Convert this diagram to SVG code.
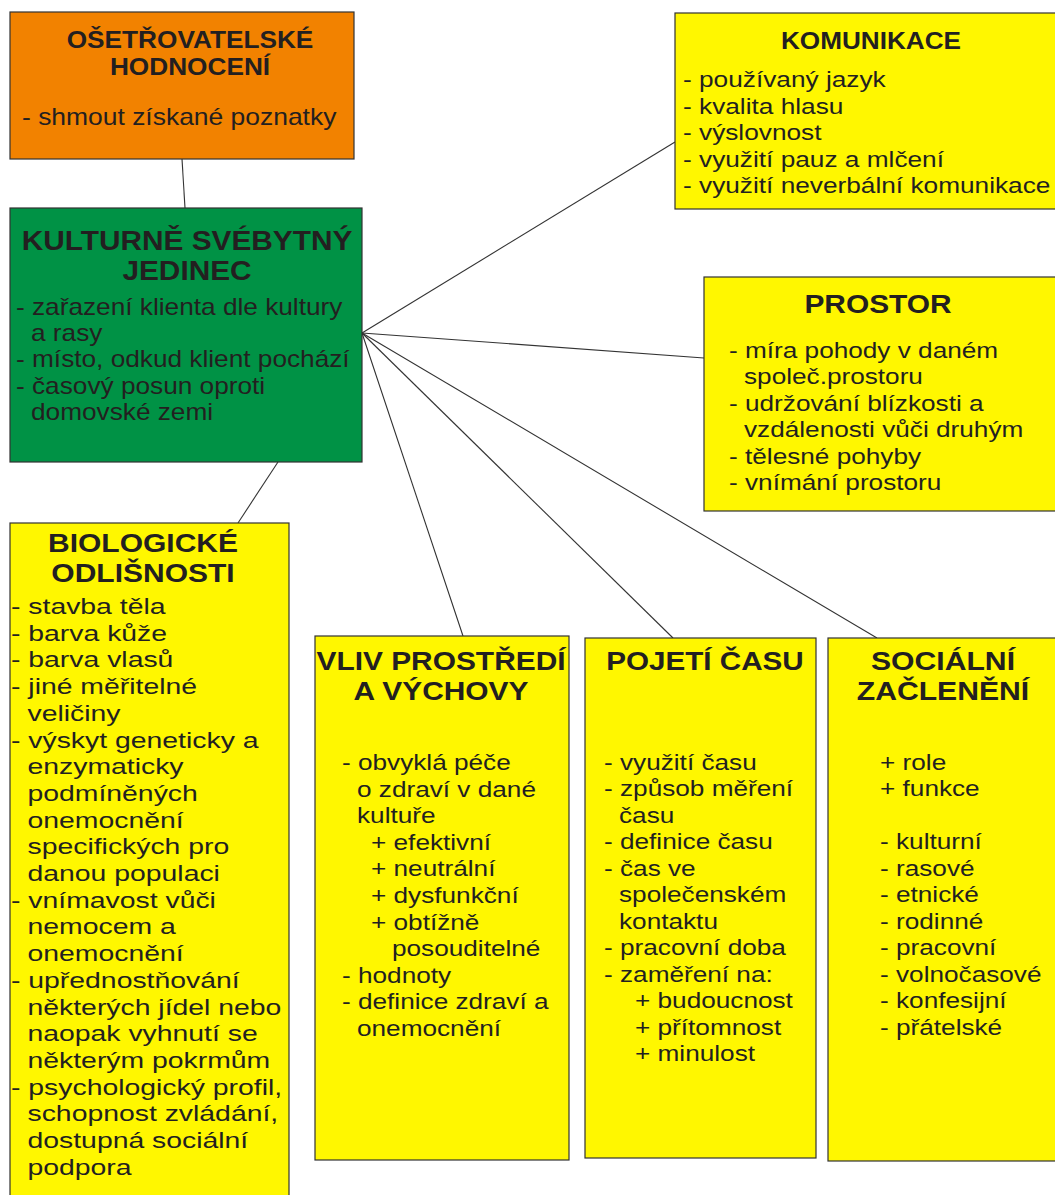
<svg xmlns="http://www.w3.org/2000/svg" width="1055" height="1195" viewBox="0 0 1055 1195">
<style>
text{font-family:"Liberation Sans",Arial,sans-serif;fill:#231f20}
.b{font-weight:bold}
.m{text-anchor:middle}
.f22{font-size:22px}
.f23{font-size:23px}
.box{stroke:#333;stroke-width:1.2}
.y{fill:#fff700}
.con line{stroke:#333;stroke-width:1.1}
</style>
<rect width="1055" height="1195" fill="#fff"/>
<g id="connectors" class="con">
<line x1="182" y1="159" x2="185" y2="208"/>
<line x1="278" y1="462" x2="238" y2="523"/>
<line x1="362" y1="333" x2="675" y2="142"/>
<line x1="362" y1="333" x2="704" y2="358"/>
<line x1="362" y1="333" x2="463" y2="636"/>
<line x1="362" y1="333" x2="673" y2="638"/>
<line x1="362" y1="333" x2="877" y2="638"/>
</g>
<g id="osetrovatelske">
<rect class="box" x="10" y="12" width="344" height="147" fill="#f28200"/>
<g transform="translate(190,0) scale(1.14,1)" class="b m" font-size="23"><text y="48">OŠETŘOVATELSKÉ</text><text y="75">HODNOCENÍ</text></g>
<g transform="translate(22,0) scale(1.15,1)" class="f23"><text y="125">- shmout získané poznatky</text></g>
</g>
<g id="jedinec">
<rect class="box" x="10" y="208" width="352" height="254" fill="#009245"/>
<g transform="translate(187,0) scale(1.065,1)" class="b m" font-size="28"><text y="250">KULTURNĚ SVÉBYTNÝ</text><text y="280">JEDINEC</text></g>
<g transform="translate(16,0) scale(1.14,1)" class="f23"><text y="314.5">- zařazení klienta dle kultury</text><text y="367.5">- místo, odkud klient pochází</text><text y="394">- časový posun oproti</text></g>
<g transform="translate(31,0) scale(1.14,1)" class="f23"><text y="341">a rasy</text><text y="420.5">domovské zemi</text></g>
</g>
<g id="komunikace">
<rect class="box y" x="675" y="13" width="390" height="196"/>
<g transform="translate(871,0) scale(1.09,1)" class="b m" font-size="24"><text y="49">KOMUNIKACE</text></g>
<g transform="translate(683,0) scale(1.193,1)" class="f22"><text y="87.3">- používaný jazyk</text><text y="113.8">- kvalita hlasu</text><text y="140.3">- výslovnost</text><text y="166.8">- využití pauz a mlčení</text><text y="193.3">- využití neverbální komunikace</text></g>
</g>
<g id="prostor">
<rect class="box y" x="704" y="277" width="360" height="234"/>
<g transform="translate(878,0) scale(1.15,1)" class="b m" font-size="26"><text y="313">PROSTOR</text></g>
<g transform="translate(729,0) scale(1.19,1)" class="f22"><text y="358">- míra pohody v daném</text><text y="411">- udržování blízkosti a</text><text y="464">- tělesné pohyby</text><text y="490">- vnímání prostoru</text></g>
<g transform="translate(744,0) scale(1.19,1)" class="f22"><text y="384">společ.prostoru</text><text y="437">vzdálenosti vůči druhým</text></g>
</g>
<g id="biologicke">
<rect class="box y" x="10" y="523" width="279" height="690"/>
<g transform="translate(143,0) scale(1.2,1)" class="b m" font-size="25"><text y="552">BIOLOGICKÉ</text><text y="582">ODLIŠNOSTI</text></g>
<g transform="translate(11,0) scale(1.29,1)" class="f22"><text y="614">- stavba těla</text><text y="640.7">- barva kůže</text><text y="667.4">- barva vlasů</text><text y="694.1">- jiné měřitelné</text><text y="747.6">- výskyt geneticky a</text><text y="907.8">- vnímavost vůči</text><text y="988">- upřednostňování</text><text y="1094.8">- psychologický profil,</text></g>
<g transform="translate(27.5,0) scale(1.29,1)" class="f22"><text y="720.8">veličiny</text><text y="774.3">enzymaticky</text><text y="801">podmíněných</text><text y="827.7">onemocnění</text><text y="854.4">specifických pro</text><text y="881.1">danou populaci</text><text y="934.5">nemocem a</text><text y="961.2">onemocnění</text><text y="1014.7">některých jídel nebo</text><text y="1041.4">naopak vyhnutí se</text><text y="1068.1">některým pokrmům</text><text y="1121.5">schopnost zvládání,</text><text y="1148.2">dostupná sociální</text><text y="1174.9">podpora</text></g>
</g>
<g id="vliv">
<rect class="box y" x="315" y="636" width="254" height="524"/>
<g transform="translate(441,0) scale(1.15,1)" class="b m" font-size="26"><text y="670">VLIV PROSTŘEDÍ</text><text y="700">A VÝCHOVY</text></g>
<g transform="translate(342,0) scale(1.19,1)" class="f22"><text y="770">- obvyklá péče</text><text y="982.8">- hodnoty</text><text y="1009.4">- definice zdraví a</text></g>
<g transform="translate(357,0) scale(1.19,1)" class="f22"><text y="796.6">o zdraví v dané</text><text y="823.2">kultuře</text><text y="1036">onemocnění</text></g>
<g transform="translate(371,0) scale(1.19,1)" class="f22"><text y="849.8">+ efektivní</text><text y="876.4">+ neutrální</text><text y="903">+ dysfunkční</text><text y="929.6">+ obtížně</text></g>
<g transform="translate(392,0) scale(1.19,1)" class="f22"><text y="956.2">posouditelné</text></g>
</g>
<g id="pojeti">
<rect class="box y" x="585" y="638" width="231" height="520"/>
<g transform="translate(705,0) scale(1.14,1)" class="b m" font-size="26"><text y="670">POJETÍ ČASU</text></g>
<g transform="translate(604,0) scale(1.19,1)" class="f22"><text y="770">- využití času</text><text y="796.5">- způsob měření</text><text y="849.5">- definice času</text><text y="876">- čas ve</text><text y="955.5">- pracovní doba</text><text y="982">- zaměření na:</text></g>
<g transform="translate(619,0) scale(1.19,1)" class="f22"><text y="823">času</text><text y="902.5">společenském</text><text y="929">kontaktu</text></g>
<g transform="translate(635,0) scale(1.19,1)" class="f22"><text y="1008.5">+ budoucnost</text><text y="1035">+ přítomnost</text><text y="1061.5">+ minulost</text></g>
</g>
<g id="socialni">
<rect class="box y" x="828" y="638" width="240" height="523"/>
<g transform="translate(943,0) scale(1.16,1)" class="b m" font-size="26"><text y="670">SOCIÁLNÍ</text><text y="700">ZAČLENĚNÍ</text></g>
<g transform="translate(880,0) scale(1.19,1)" class="f22"><text y="770">+ role</text><text y="796.5">+ funkce</text><text y="849.5">- kulturní</text><text y="876">- rasové</text><text y="902.5">- etnické</text><text y="929">- rodinné</text><text y="955.5">- pracovní</text><text y="982">- volnočasové</text><text y="1008.5">- konfesijní</text><text y="1035">- přátelské</text></g>
</g>
</svg>
